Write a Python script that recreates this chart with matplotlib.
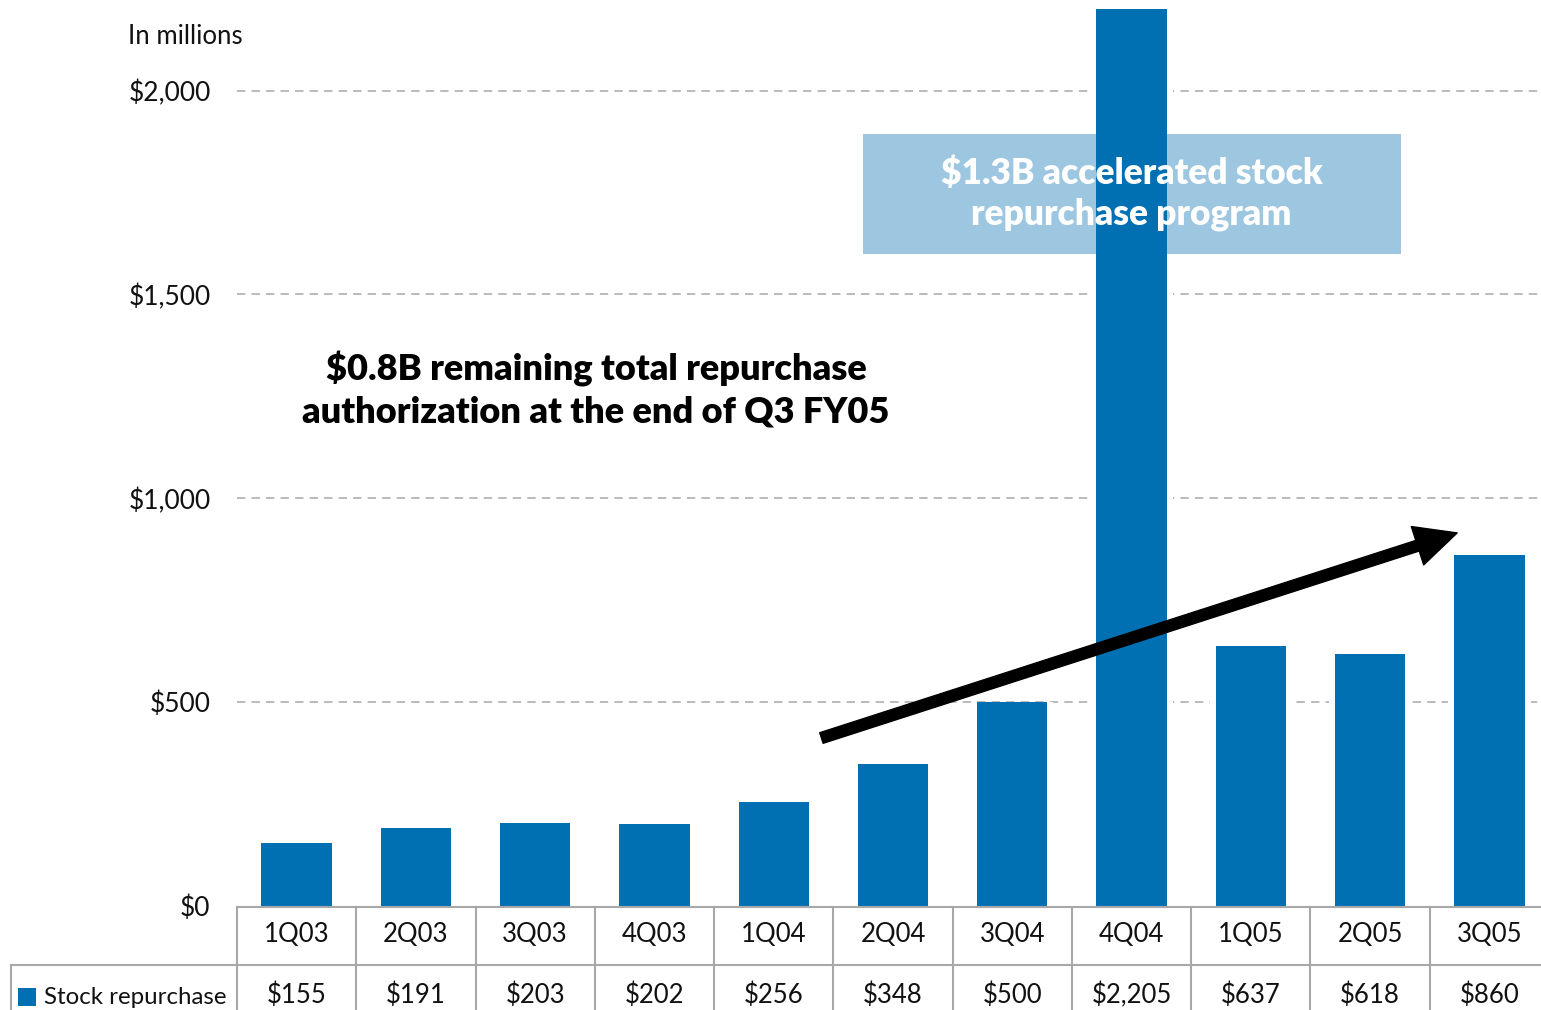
import matplotlib
matplotlib.use("Agg")
from matplotlib import pyplot as plt
from matplotlib.patches import Rectangle, ArrowStyle
from matplotlib.lines import Line2D
from matplotlib.transforms import blended_transform_factory

# Recompra de acciones por trimestre (millones de dólares)
trimestres = ["1Q03", "2Q03", "3Q03", "4Q03", "1Q04", "2Q04", "3Q04",
              "4Q04", "1Q05", "2Q05", "3Q05"]
recompra = [155, 191, 203, 202, 256, 348, 500, 2205, 637, 618, 860]
ticks_y = [0, 500, 1000, 1500, 2000]
etiquetas_y = ["$0", "$500", "$1,000", "$1,500", "$2,000"]

AZUL = "#0070B3"
AZUL_CLARO = "#9DC6E0"
GRIS = "#A8A8A8"

plt.rcParams["font.family"] = ["Lato", "DejaVu Sans"]

W, H = 1541, 1010
fig = plt.figure(figsize=(W / 100, H / 100), dpi=100)


def fx(px):
    return px / W


def fy(py):
    return 1 - py / H


ax = fig.add_axes([fx(237), fy(906), (1549 - 237) / W, (906 - 9) / H])
x = list(range(len(trimestres)))

# Fondo blanco algo más ancho para cortar la cuadrícula alrededor de las barras
ax.bar(x, recompra, width=0.69, color="white", zorder=0.7)
ax.bar(x, recompra, width=0.59, color=AZUL, zorder=2)
ax.set_xlim(-0.5, len(trimestres) - 0.5)
ax.set_ylim(0, 2200)

# Líneas de cuadrícula discontinuas
for v in ticks_y[1:]:
    ax.axhline(v, color=GRIS, lw=1.1, ls=(0, (5.5, 4)), zorder=0.5)

ax.set_yticks(ticks_y)
ax.set_yticklabels(etiquetas_y, fontsize=19, color="#111111")
ax.tick_params(axis="y", length=0, pad=19)
ax.set_xticks([])
for s in ax.spines.values():
    s.set_visible(False)

fig.text(fx(128), fy(37), "In millions", fontsize=18.5, va="center",
         ha="left", color="#111111")

# Recuadro del programa acelerado (detrás de las barras)
ax.add_patch(Rectangle((4.75, 1600), 4.51, 294, facecolor=AZUL_CLARO,
                       edgecolor="none", zorder=1))
ax.text(7.0, 1746, "$1.3B accelerated stock\nrepurchase program",
        ha="center", va="center", fontsize=25.5, fontweight="heavy",
        color="white", linespacing=1.27, zorder=3)

ax.text(2.51, 1266, "$0.8B remaining total repurchase\n"
        "authorization at the end of Q3 FY05",
        ha="center", va="center", fontsize=26, fontweight="heavy",
        color="black", linespacing=1.33, zorder=3)

# Flecha de tendencia
ax.annotate("", xy=(9.73, 915), xytext=(4.40, 412),
            arrowprops=dict(arrowstyle=ArrowStyle.Simple(head_length=30,
                                                         head_width=29,
                                                         tail_width=8),
                            mutation_scale=1, color="black",
                            shrinkA=0, shrinkB=0),
            zorder=4)

# Tabla de datos bajo el eje
tr = blended_transform_factory(ax.transData, fig.transFigure)
lw_tabla = 1.5
fig.add_artist(Line2D([fx(237), 1.0], [fy(907), fy(907)], color=GRIS, lw=lw_tabla))
fig.add_artist(Line2D([fx(11), 1.0], [fy(965), fy(965)], color=GRIS, lw=lw_tabla))
fig.add_artist(Line2D([fx(11), fx(11)], [fy(965), 0], color=GRIS, lw=lw_tabla))
for k in range(len(trimestres) + 1):
    ax.add_artist(Line2D([k - 0.5, k - 0.5], [fy(907), 0], color=GRIS,
                         lw=lw_tabla, transform=tr, clip_on=False))

for i, (t, v) in enumerate(zip(trimestres, recompra)):
    ax.text(i, fy(935), t, transform=tr, ha="center", va="center",
            fontsize=18.5, color="#111111", clip_on=False)
    ax.text(i, fy(995), f"${v:,}", transform=tr, ha="center", va="center",
            fontsize=18.5, color="#111111", clip_on=False)

fig.add_artist(Rectangle((fx(18), fy(1006)), fx(18), 18 / H,
                         facecolor=AZUL, edgecolor="none"))
fig.text(fx(44), fy(997), "Stock repurchase", fontsize=17.3, va="center",
         ha="left", color="#111111")

fig.savefig("out.png", dpi=100)
